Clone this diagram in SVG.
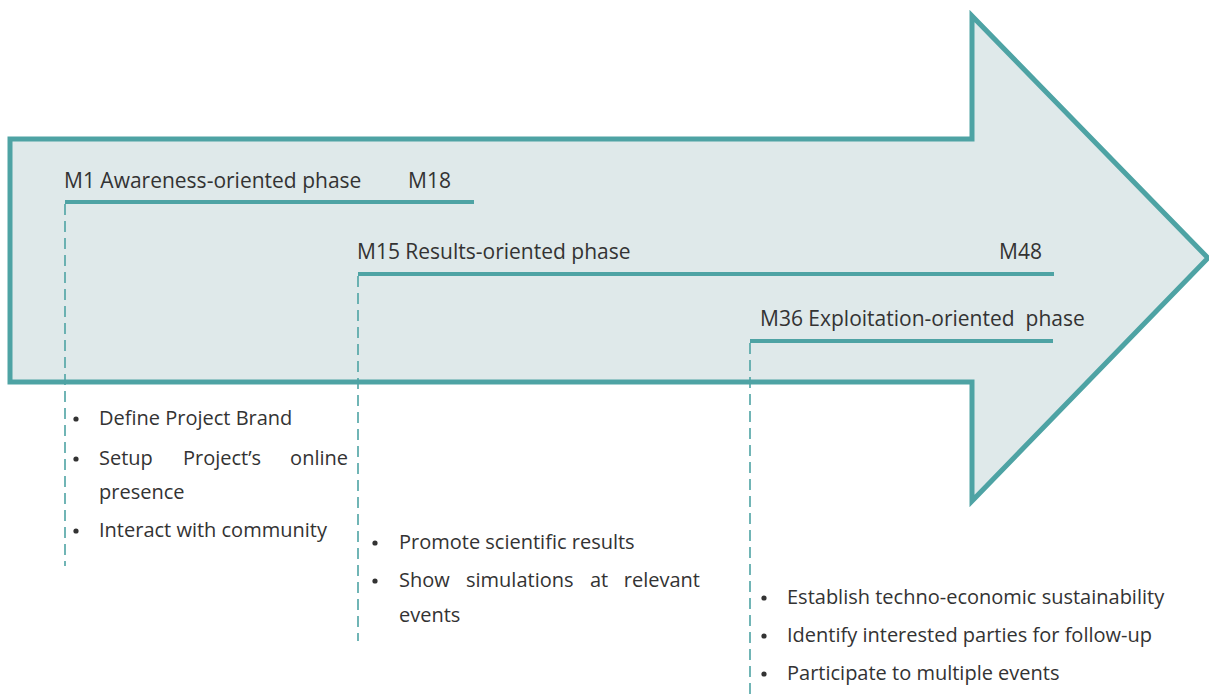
<svg xmlns="http://www.w3.org/2000/svg" width="1209" height="700" viewBox="0 0 1209 700">
  <style>
    .arrow { fill: #dfe9ea; stroke: #4ea3a4; stroke-width: 5; stroke-linejoin: miter; }
    .bar { stroke: #4ea3a4; stroke-width: 4; fill: none; }
    .dash { stroke: #4ea3a4; stroke-width: 1.6; stroke-dasharray: 11 6; fill: none; }
    .lbl { font-family: "Open Sans", "Liberation Sans", sans-serif; font-size: 21px; fill: #333; }
    .item { font-family: "Open Sans", "Liberation Sans", sans-serif; font-size: 20px; fill: #333; }
    .end { text-anchor: end; }
    .dot { fill: #333; }
  </style>
  <rect width="1209" height="700" fill="#ffffff"/>

  <!-- big timeline arrow -->
  <g id="arrow">
    <polygon class="arrow" points="10,139 972,139 972,16 1208,258 972,501 972,382 10,382"/>
  </g>

  <!-- phase bars with their dashed drop lines -->
  <g id="connectors">
    <line class="bar" x1="65" y1="202" x2="474" y2="202"/>
    <line class="dash" x1="65" y1="204" x2="65" y2="566"/>
    <line class="bar" x1="358" y1="274" x2="1054" y2="274"/>
    <line class="dash" x1="358" y1="276" x2="358" y2="641"/>
    <line class="bar" x1="750" y1="341" x2="1053" y2="341"/>
    <line class="dash" x1="750" y1="343" x2="750" y2="700"/>
  </g>

  <g id="phase-awareness">
    <text class="lbl" x="64" y="188">M1 Awareness-oriented phase</text>
    <text class="lbl" x="408" y="188">M18</text>
    <circle class="dot" cx="76" cy="419" r="2.6"/>
    <circle class="dot" cx="76" cy="459" r="2.6"/>
    <circle class="dot" cx="76" cy="531" r="2.6"/>
    <g class="item">
      <text x="99" y="425">Define Project Brand</text>
      <text y="465"><tspan x="99">Setup</tspan><tspan x="183">Project’s</tspan></text>
      <text class="end" x="348" y="465">online</text>
      <text x="99" y="499">presence</text>
      <text x="99" y="537">Interact with community</text>
    </g>
  </g>

  <g id="phase-results">
    <text class="lbl" x="357" y="259">M15 Results-oriented phase</text>
    <text class="lbl" x="999" y="259">M48</text>
    <circle class="dot" cx="375" cy="543" r="2.6"/>
    <circle class="dot" cx="375" cy="581" r="2.6"/>
    <g class="item">
      <text x="399" y="549">Promote scientific results</text>
      <text y="587"><tspan x="399">Show</tspan><tspan x="466">simulations</tspan><tspan x="590">at</tspan></text>
      <text class="end" x="700" y="587">relevant</text>
      <text x="399" y="622">events</text>
    </g>
  </g>

  <g id="phase-exploitation">
    <text class="lbl" x="760" y="326" xml:space="preserve">M36 Exploitation-oriented  phase</text>
    <circle class="dot" cx="764" cy="598" r="2.6"/>
    <circle class="dot" cx="764" cy="636" r="2.6"/>
    <circle class="dot" cx="764" cy="674" r="2.6"/>
    <g class="item">
      <text x="787" y="604">Establish techno-economic sustainability</text>
      <text x="787" y="642">Identify interested parties for follow-up</text>
      <text x="787" y="680">Participate to multiple events</text>
    </g>
  </g>
</svg>
